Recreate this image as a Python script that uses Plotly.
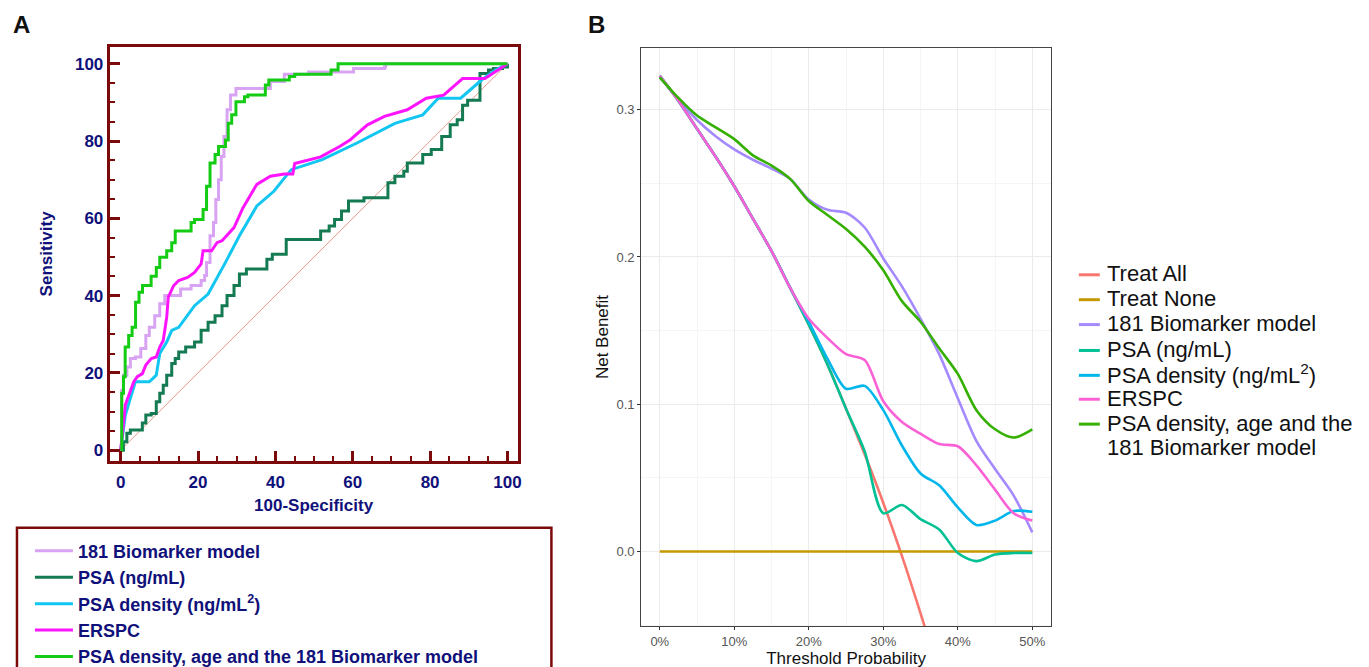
import plotly.graph_objects as go

# ---------------- Panel A: ROC curves (100-Specificity, Sensitivity) ----------------
roc_181_x = [0, 0.27, 0.7, 1.6, 2.5, 3.8, 5.2, 6.5, 7.4, 8.8, 10.1, 11.4, 13.7, 15.5, 18.2, 20.8, 21.7, 22.2,
             23.1, 24.0, 24.6, 25.3, 26.0, 26.7, 27.5, 28.4, 29.8, 36.9, 38.7, 42.3, 48.6, 60.2, 68.2, 68.5, 100]
roc_181_y = [0, 15.5, 19.4, 21.5, 23.7, 24.1, 26.3, 29.7, 31.8, 34.8, 37.9, 40.0, 40.0, 41.7, 42.6, 43.9, 45.2, 48.6,
             55.5, 58.9, 64.9, 70.0, 76.0, 81.2, 88.1, 91.9, 93.6, 93.6, 95.4, 97.3, 97.9, 98.8, 99.2, 100, 100]

roc_psa_x = [0, 0.7, 1.6, 2.5, 4.7, 5.6, 6.5, 7.9, 9.2, 10.1, 11.0, 11.9, 13.2, 14.1, 15.0, 16.8, 19.1, 20.8,
             22.6, 24.4, 26.2, 27.5, 29.3, 30.7, 32.5, 37.4, 37.8, 39.2, 42.3, 42.8, 48.6, 51.7, 53.9, 55.3,
             57.1, 58.9, 61.1, 62.9, 67.8, 69.1, 70.9, 73.2, 74.1, 77.6, 78.1, 80.3, 82.1, 83.0, 85.2, 87.0,
             88.4, 89.7, 92.0, 92.9, 95.1, 96.4, 98.7, 100]
roc_psa_y = [0, 2.2, 4.4, 5.2, 5.2, 7.0, 9.1, 9.5, 12.5, 14.7, 16.8, 19.4, 22.4, 23.7, 25.4, 26.7, 28.0, 31.0,
             33.1, 34.8, 37.4, 40.0, 42.6, 45.6, 46.9, 46.9, 49.4, 50.7, 50.7, 54.5, 54.5, 56.7, 58.0, 59.7,
             61.9, 64.5, 64.5, 65.3, 65.3, 69.2, 70.9, 72.2, 74.3, 74.3, 76.5, 77.8, 77.8, 81.2, 84.2, 85.5,
             89.3, 90.6, 90.6, 97.5, 98.4, 98.8, 99.2, 100]

roc_psad_x = [0, 1.2, 2.5, 3.8, 7.4, 9.2, 10.1, 11.9, 13.2, 15.0, 19.1, 22.6, 27.1, 30.7, 35.2, 39.6, 44.1,
              52.1, 61.1, 70.9, 78.1, 82.1, 87.9, 93.3, 96.9, 100]
roc_psad_y = [0, 9.1, 13.4, 17.7, 17.7, 19.4, 25.0, 28.0, 31.0, 31.8, 37.4, 40.4, 48.6, 55.5, 63.2, 67.0, 72.6,
              75.2, 79.5, 84.6, 86.8, 91.1, 91.1, 95.8, 98.4, 100]

roc_erspc_x = [0, 0.7, 1.2, 2.1, 3.4, 4.3, 5.6, 6.5, 7.9, 9.2, 10.1, 11.0, 11.4, 11.9, 12.3, 13.7, 15.0, 17.3,
               19.1, 20.8, 21.3, 23.5, 24.9, 26.2, 29.3, 31.6, 35.2, 38.7, 42.3, 44.5, 45.0, 51.7, 56.6, 59.3,
               63.8, 68.2, 74.1, 79.0, 83.5, 88.4, 94.2, 100]
roc_erspc_y = [0, 6.5, 11.7, 14.2, 17.7, 19.0, 19.8, 22.0, 23.7, 24.1, 26.7, 28.4, 31.4, 34.4, 39.6, 42.6, 43.9,
               44.7, 46.0, 48.2, 51.6, 51.6, 53.7, 54.2, 57.6, 62.7, 68.8, 70.9, 71.5, 71.5, 74.2, 75.9, 78.6,
               80.3, 84.2, 86.4, 88.1, 91.1, 91.9, 96.2, 96.2, 100]

roc_comb_x = [0, 0.27, 0.72, 1.16, 2.06, 2.95, 3.85, 4.74, 5.64, 7.42, 7.87, 9.21, 10.1, 11.9, 13.2, 14.1, 17.7,
              18.2, 19.1, 20.8, 21.3, 22.2, 23.1, 24.4, 25.3, 27.1, 27.8, 28.7, 29.8, 32.0, 32.9, 36.5, 37.4,
              38.3, 42.8, 43.6, 45.0, 53.5, 54.4, 56.2, 100]
roc_comb_y = [0, 14.7, 19.0, 26.7, 29.7, 31.8, 38.3, 40.9, 42.6, 42.6, 45.0, 47.3, 49.9, 51.6, 53.7, 56.7, 56.7,
              58.9, 59.7, 59.7, 62.3, 68.3, 74.3, 76.5, 78.6, 80.3, 84.6, 86.8, 90.2, 91.5, 91.9, 91.9, 94.5,
              95.8, 95.8, 96.7, 97.3, 97.3, 98.4, 100, 100]

roc_names = ["181 Biomarker model", "PSA (ng/mL)", "PSA density (ng/mL<sup>2</sup>)", "ERSPC",
             "PSA density, age and the 181 Biomarker model"]
roc_colors = ["#d9a3f3", "#137a52", "#12c6f2", "#ff14ff", "#14cc14"]

# ---------------- Panel B: decision curves ----------------
thresh = [0, 0.025, 0.05, 0.075, 0.10, 0.125, 0.15, 0.175, 0.20, 0.225, 0.25, 0.275, 0.30, 0.325, 0.35,
          0.375, 0.40, 0.425, 0.45, 0.475, 0.50]
nb_treat_all = [0.323, 0.306, 0.287, 0.268, 0.248, 0.226, 0.204, 0.179, 0.154, 0.127, 0.097, 0.066, 0.033,
                -0.003, -0.042, -0.083]
nb_treat_none = [0, 0]
thresh_none = [0, 0.50]
nb_181 = [0.322, 0.307, 0.293, 0.282, 0.273, 0.266, 0.260, 0.253, 0.239, 0.232, 0.230, 0.220, 0.199, 0.180,
          0.158, 0.134, 0.104, 0.075, 0.056, 0.038, 0.013]
nb_psa = [0.323, 0.306, 0.287, 0.268, 0.248, 0.226, 0.204, 0.179, 0.154, 0.127, 0.097, 0.068, 0.026, 0.0316,
          0.022, 0.015, -0.001, -0.0065, -0.002, -0.001, -0.001]
nb_psad = [0.323, 0.306, 0.287, 0.268, 0.248, 0.226, 0.204, 0.179, 0.156, 0.131, 0.1105, 0.1125, 0.096, 0.072,
           0.053, 0.045, 0.030, 0.018, 0.021, 0.0275, 0.027]
nb_erspc = [0.323, 0.306, 0.287, 0.268, 0.248, 0.226, 0.204, 0.179, 0.158, 0.145, 0.134, 0.130, 0.102, 0.088,
            0.080, 0.073, 0.0715, 0.0585, 0.042, 0.026, 0.021]
nb_comb = [0.322, 0.308, 0.296, 0.288, 0.280, 0.269, 0.262, 0.253, 0.238, 0.2285, 0.219, 0.207, 0.191, 0.170,
           0.156, 0.138, 0.1206, 0.096, 0.083, 0.0774, 0.083]

dca_names = ["Treat All", "Treat None", "181 Biomarker model", "PSA (ng/mL)", "PSA density (ng/mL<sup>2</sup>)",
             "ERSPC", "PSA density, age and the", "181 Biomarker model"]
dca_colors = ["#F8766D", "#C49A00", "#A58AFF", "#00C094", "#00B6EB", "#FB61D7", "#35B000"]

W, H = 1369, 667
OFF = 8  # page body margin of the written html


def px(x):
    return (x - OFF) / W


def py(y):
    return 1 - (y - OFF) / H


NAVY = "#10107a"
DRED = "#7d0a0a"
FONT = "Liberation Sans, Arial, sans-serif"

fig = go.Figure()

# Panel A diagonal reference
fig.add_trace(go.Scatter(x=[0, 100], y=[0, 100], mode="lines", line=dict(color="#e39a8c", width=1),
                         showlegend=False, hoverinfo="skip", xaxis="x", yaxis="y"))
roc_sets = [(roc_181_x, roc_181_y, "hv"), (roc_psa_x, roc_psa_y, "hv"), (roc_psad_x, roc_psad_y, "linear"),
            (roc_erspc_x, roc_erspc_y, "linear"), (roc_comb_x, roc_comb_y, "hv")]
for (xs, ys, shape), name, col in zip(roc_sets, roc_names, roc_colors):
    fig.add_trace(go.Scatter(x=xs, y=ys, mode="lines", name=name, line=dict(color=col, width=3, shape=shape),
                             xaxis="x", yaxis="y", legend="legend"))

# Panel B
fig.add_trace(go.Scatter(x=thresh[:len(nb_treat_all)], y=nb_treat_all, mode="lines", name=dca_names[0],
                         line=dict(color=dca_colors[0], width=2.6, shape="spline"), xaxis="x2", yaxis="y2",
                         showlegend=False))
fig.add_trace(go.Scatter(x=thresh_none, y=nb_treat_none, mode="lines", name=dca_names[1],
                         line=dict(color=dca_colors[1], width=2.6), xaxis="x2", yaxis="y2", showlegend=False))
for ys, name, col in zip([nb_181, nb_psa, nb_psad, nb_erspc, nb_comb], dca_names[2:7], dca_colors[2:]):
    fig.add_trace(go.Scatter(x=thresh, y=ys, mode="lines", name=name,
                             line=dict(color=col, width=2.6, shape="spline", smoothing=0.8),
                             xaxis="x2", yaxis="y2", showlegend=False))

# Panel B legend (text + key lines)
leg_rows = [275, 300, 325, 351, 376, 400, 425, 449]
shapes = [dict(type="rect", xref="paper", yref="paper", x0=px(17), x1=px(553), y0=py(680), y1=py(530),
               line=dict(color=DRED, width=2.5), fillcolor="rgba(0,0,0,0)", layer="below")]
annotations = [
    dict(text="A", x=px(11), y=py(25), xref="paper", yref="paper", showarrow=False, xanchor="left",
         yanchor="middle", font=dict(size=24, color="#111111", weight="bold")),
    dict(text="B", x=px(588), y=py(25), xref="paper", yref="paper", showarrow=False, xanchor="left",
         yanchor="middle", font=dict(size=24, color="#111111", weight="bold")),
]
for i, (row, name) in enumerate(zip(leg_rows, dca_names)):
    annotations.append(dict(text=name, x=px(1108), y=py(row), xref="paper", yref="paper", showarrow=False,
                            xanchor="left", yanchor="middle",
                            font=dict(size=22, color="#111111", family=FONT)))
    if i < len(dca_colors):
        shapes.append(dict(type="line", xref="paper", yref="paper", x0=px(1082), x1=px(1103),
                           y0=py(row + 1), y1=py(row + 1), line=dict(color=dca_colors[i], width=3)))

fig.update_layout(
    width=W, height=H, margin=dict(l=0, r=0, t=0, b=0),
    paper_bgcolor="white", plot_bgcolor="white",
    font=dict(family=FONT),
    xaxis=dict(domain=[px(110), px(519)], anchor="y", range=[-2.84, 102.6],
               tickvals=[0, 20, 40, 60, 80, 100], ticks="inside", ticklen=10, tickwidth=2.5, tickcolor=DRED,
               minor=dict(ticks="inside", ticklen=5, tickwidth=2, tickcolor=DRED, dtick=5, showgrid=False),
               showline=True, mirror=True, linecolor=DRED, linewidth=3, showgrid=False, zeroline=False,
               tickfont=dict(size=17, color=NAVY, weight="bold"), ticklabelstandoff=4,
               title=dict(text="100-Specificity", font=dict(size=17, color=NAVY, weight="bold"), standoff=8)),
    yaxis=dict(domain=[py(463), py(47)], anchor="x", range=[-2.8, 104.4],
               tickvals=[0, 20, 40, 60, 80, 100], ticks="inside", ticklen=10, tickwidth=2.5, tickcolor=DRED,
               minor=dict(ticks="inside", ticklen=5, tickwidth=2, tickcolor=DRED, dtick=5, showgrid=False),
               showline=True, mirror=True, linecolor=DRED, linewidth=3, showgrid=False, zeroline=False,
               tickfont=dict(size=17, color=NAVY, weight="bold"),
               title=dict(text="Sensitivity", font=dict(size=17, color=NAVY, weight="bold"), standoff=18)),
    xaxis2=dict(domain=[px(643), px(1054)], anchor="y2", range=[-0.025, 0.525],
                tickvals=[0, 0.1, 0.2, 0.3, 0.4, 0.5], ticktext=["0%", "10%", "20%", "30%", "40%", "50%"],
                ticks="outside", ticklen=3, tickcolor="#333333",
                showgrid=True, gridcolor="#ebebeb", gridwidth=1.2,
                minor=dict(tickvals=[0.05, 0.15, 0.25, 0.35, 0.45], showgrid=True, gridcolor="#f5f5f5",
                           gridwidth=1, ticks=""),
                showline=True, mirror=True, linecolor="#444444", linewidth=1, zeroline=False,
                tickfont=dict(size=13, color="#555555"),
                title=dict(text="Threshold Probability", font=dict(size=17, color="#111111"), standoff=0)),
    yaxis2=dict(domain=[py(629), py(48)], anchor="x2", range=[-0.0507, 0.342],
                tickvals=[0, 0.1, 0.2, 0.3], ticktext=["0.0", "0.1", "0.2", "0.3"],
                ticks="outside", ticklen=3, tickcolor="#333333",
                showgrid=True, gridcolor="#ebebeb", gridwidth=1.2,
                minor=dict(tickvals=[-0.05, 0.05, 0.15, 0.25], showgrid=True, gridcolor="#f5f5f5",
                           gridwidth=1, ticks=""),
                showline=True, mirror=True, linecolor="#444444", linewidth=1, zeroline=False,
                tickfont=dict(size=13, color="#555555"),
                title=dict(text="Net Benefit", font=dict(size=17, color="#111111"), standoff=3)),
    legend=dict(x=px(30), y=py(535), xanchor="left", yanchor="top", bgcolor="rgba(0,0,0,0)",
                borderwidth=0, tracegroupgap=0, itemwidth=38,
                font=dict(size=18, color=NAVY, weight="bold", family=FONT)),
    shapes=shapes,
    annotations=annotations,
)

fig.write_html("out.html")
